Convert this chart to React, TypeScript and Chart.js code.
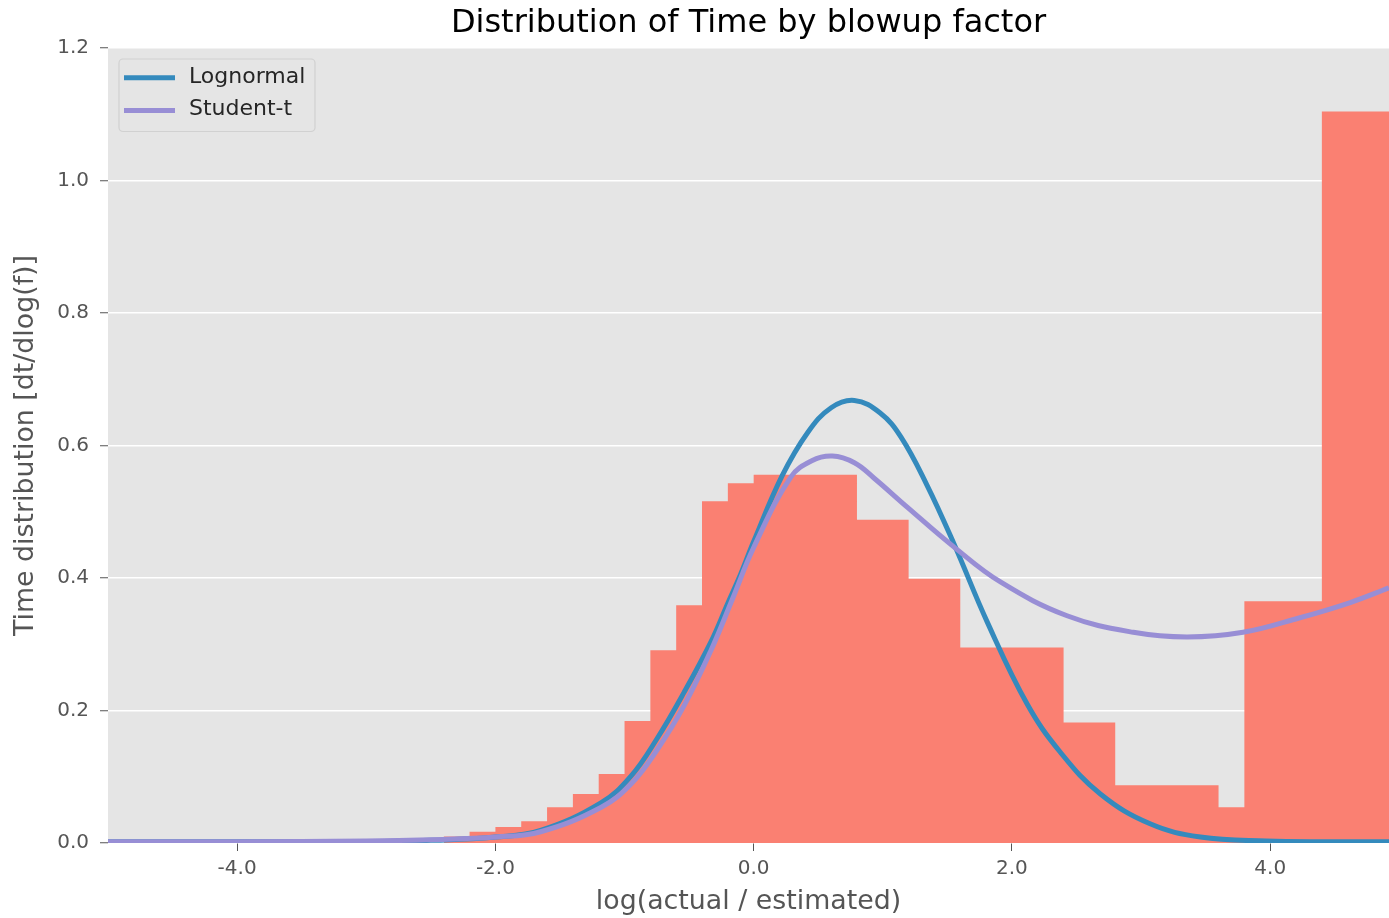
import React, { useEffect, useRef } from 'react';
import { Chart, registerables } from 'chart.js';

Chart.register(...registerables);

// ---- Data ----
const TITLE = 'Distribution of Time by blowup factor';
const X_LABEL = 'log(actual / estimated)';
const Y_LABEL = 'Time distribution [dt/dlog(f)]';
const SERIES_NAMES = ['Lognormal', 'Student-t'];

const X_TICKS = [-4, -2, 0, 2, 4];
const Y_TICKS = [0, 0.2, 0.4, 0.6, 0.8, 1.0, 1.2];

// histogram bin edges and heights
const HIST_EDGES = [-2.4, -2.2, -2.0, -1.8, -1.6, -1.4, -1.2, -1.0, -0.8, -0.6, -0.4, -0.2, 0.0, 0.8, 1.2, 1.6, 2.4, 2.8, 3.6, 3.8, 4.4, 5.0];
const HIST_HEIGHTS = [0.010, 0.017, 0.024, 0.033, 0.054, 0.074, 0.104, 0.184, 0.291, 0.359, 0.516, 0.543, 0.556, 0.488, 0.399, 0.295, 0.182, 0.087, 0.054, 0.365, 1.104];

// Lognormal fit curve
const LOGN_X = [-5.0, -4.0, -3.0, -2.5, -2.0, -1.65, -1.18, -0.95, -0.75, -0.54, -0.33, -0.2, -0.1, 0.0, 0.22, 0.42, 0.6, 0.78, 0.98, 1.14, 1.34, 1.55, 1.81, 2.12, 2.375, 2.685, 3.07, 3.46, 3.97, 4.5, 4.92];
const LOGN_Y = [0.002, 0.002, 0.002, 0.004, 0.009, 0.019, 0.061, 0.101, 0.157, 0.227, 0.304, 0.362, 0.406, 0.455, 0.554, 0.620, 0.657, 0.668, 0.649, 0.613, 0.541, 0.452, 0.333, 0.209, 0.137, 0.074, 0.029, 0.009, 0.003, 0.002, 0.002];

// Student-t fit curve
const STUD_X = [-5.0, -4.0, -3.0, -2.5, -2.0, -1.65, -1.18, -0.95, -0.75, -0.54, -0.33, -0.165, 0.0, 0.286, 0.45, 0.609, 0.78, 0.931, 1.189, 1.55, 1.911, 2.427, 2.94, 3.355, 3.79, 4.23, 4.62, 4.92];
const STUD_Y = [0.002, 0.002, 0.003, 0.005, 0.009, 0.017, 0.054, 0.089, 0.140, 0.207, 0.291, 0.368, 0.446, 0.552, 0.577, 0.584, 0.574, 0.551, 0.507, 0.447, 0.394, 0.343, 0.318, 0.311, 0.318, 0.340, 0.363, 0.385];

const COLORS = { hist: '#FA8072', logn: '#348ABD', stud: '#988ED5', bg: '#E5E5E5', tick: '#555555' };
const FONT = "'DejaVu Sans', 'Liberation Sans', sans-serif";

export default function App() {
  const ref = useRef<HTMLCanvasElement>(null);

  useEffect(() => {
    if (!ref.current) return;
    Chart.defaults.font.family = FONT;

    const histData = HIST_EDGES.map((x, i) => ({ x, y: HIST_HEIGHTS[Math.min(i, HIST_HEIGHTS.length - 1)] }));
    const lognData = LOGN_X.map((x, i) => ({ x, y: LOGN_Y[i] }));
    const studData = STUD_X.map((x, i) => ({ x, y: STUD_Y[i] }));

    const bgPlugin = {
      id: 'axesBg',
      beforeDraw(chart: any) {
        const { ctx, chartArea: a } = chart;
        ctx.save();
        ctx.fillStyle = COLORS.bg;
        ctx.fillRect(a.left, a.top, a.right - a.left, a.bottom - a.top);
        ctx.restore();
      },
    };

    const legendPlugin = {
      id: 'boxLegend',
      afterDraw(chart: any) {
        const { ctx, chartArea: a } = chart;
        const items = chart.data.datasets.filter((d: any) => SERIES_NAMES.includes(d.label));
        const x0 = a.left + 11, y0 = a.top + 11, w = 196, h = 72.5, r = 4;
        ctx.save();
        ctx.beginPath();
        ctx.moveTo(x0 + r, y0);
        ctx.arcTo(x0 + w, y0, x0 + w, y0 + h, r);
        ctx.arcTo(x0 + w, y0 + h, x0, y0 + h, r);
        ctx.arcTo(x0, y0 + h, x0, y0, r);
        ctx.arcTo(x0, y0, x0 + w, y0, r);
        ctx.closePath();
        ctx.fillStyle = 'rgba(229,229,229,0.8)';
        ctx.fill();
        ctx.lineWidth = 1.2;
        ctx.strokeStyle = 'rgba(204,204,204,0.8)';
        ctx.stroke();
        items.forEach((d: any, i: number) => {
          const cy = a.top + 29.8 + i * 32.7;
          ctx.beginPath();
          ctx.moveTo(a.left + 16, cy);
          ctx.lineTo(a.left + 67, cy);
          ctx.lineWidth = 5;
          ctx.strokeStyle = d.borderColor;
          ctx.lineCap = 'butt';
          ctx.stroke();
          ctx.font = `22px ${FONT}`;
          ctx.fillStyle = '#262626';
          ctx.textBaseline = 'middle';
          ctx.textAlign = 'left';
          ctx.fillText(d.label, a.left + 81, cy - 1);
        });
        ctx.restore();
      },
    };

    const chart = new Chart(ref.current, {
      type: 'line',
      data: {
        datasets: [
          {
            label: 'histogram',
            data: histData,
            order: 3,
            stepped: true,
            fill: 'origin',
            backgroundColor: COLORS.hist,
            borderColor: 'rgba(0,0,0,0)',
            borderWidth: 0,
            pointRadius: 0,
          },
          {
            label: SERIES_NAMES[0],
            data: lognData,
            order: 2,
            borderColor: COLORS.logn,
            borderWidth: 5,
            pointRadius: 0,
            fill: false,
            tension: 0.4,
          },
          {
            label: SERIES_NAMES[1],
            data: studData,
            order: 1,
            borderColor: COLORS.stud,
            borderWidth: 5,
            pointRadius: 0,
            fill: false,
            tension: 0.4,
          },
        ],
      } as any,
      options: {
        responsive: false,
        animation: false,
        devicePixelRatio: 1,
        layout: { padding: 0 },
        events: [],
        plugins: {
          legend: { display: false },
          tooltip: { enabled: false },
          title: {
            display: true,
            text: TITLE,
            fullSize: false,
            color: '#000000',
            font: { family: FONT, size: 32, weight: 'normal', lineHeight: 1.2 },
            padding: { top: 4.5, bottom: 5.1 },
          },
        },
        scales: {
          x: {
            type: 'linear',
            min: -5,
            max: 4.92,
            afterBuildTicks: (s: any) => { s.ticks = X_TICKS.map((v) => ({ value: v })); },
            afterFit: (s: any) => { s.height = 75; },
            grid: { drawOnChartArea: false, drawTicks: true, tickLength: 8, tickColor: COLORS.tick, tickWidth: 1 },
            border: { display: false },
            ticks: {
              color: COLORS.tick,
              font: { family: FONT, size: 20, lineHeight: 1.2 },
              padding: 6,
              maxRotation: 0,
              autoSkip: false,
              callback: (v: any) => Number(v).toFixed(1),
            },
            title: {
              display: true,
              text: X_LABEL,
              color: COLORS.tick,
              font: { family: FONT, size: 26.8, lineHeight: 1.2 },
              padding: { top: 0, bottom: 0 },
            },
          },
          y: {
            type: 'linear',
            min: 0,
            max: 1.2,
            afterBuildTicks: (s: any) => { s.ticks = Y_TICKS.map((v) => ({ value: v })); },
            afterFit: (s: any) => { s.width = 108; },
            grid: { color: '#FFFFFF', lineWidth: 1.5, drawTicks: true, tickLength: 8, tickColor: COLORS.tick, tickWidth: 1 },
            border: { display: false },
            ticks: {
              color: COLORS.tick,
              font: { family: FONT, size: 20, lineHeight: 1.2 },
              padding: 11,
              callback: (v: any) => Number(v).toFixed(1),
            },
            title: {
              display: true,
              text: Y_LABEL,
              color: COLORS.tick,
              font: { family: FONT, size: 26.8, lineHeight: 1.2 },
              padding: { top: 10, bottom: 0 },
            },
          },
        },
      } as any,
      plugins: [bgPlugin, legendPlugin],
    });

    return () => chart.destroy();
  }, []);

  return (
    <div style={{ position: 'absolute', left: 0, top: 0, width: 1389, height: 918, background: '#fff' }}>
      <canvas ref={ref} width={1389} height={918} style={{ display: 'block', width: 1389, height: 918 }} />
    </div>
  );
}
